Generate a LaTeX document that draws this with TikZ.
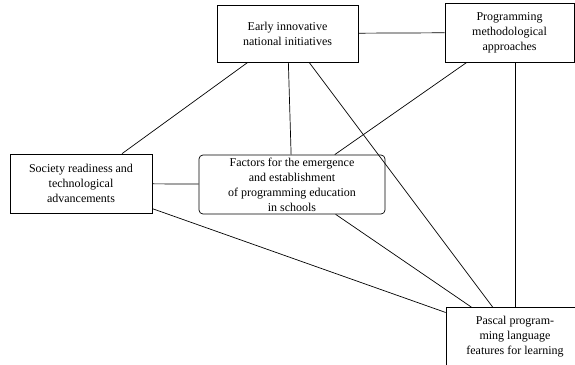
\documentclass[tikz,border=0pt]{standalone}
\usepackage{fontspec}
\setmainfont{Liberation Serif}
\usepackage{tikz}
\usetikzlibrary{positioning}

\begin{document}
\begin{tikzpicture}[x=1pt,y=-1pt,
    plainbox/.style={draw,line width=0.7pt,align=center,inner sep=2pt,
      font=\fontsize{12}{15}\selectfont},
    factorbox/.style={plainbox,rounded corners=4pt},
    link/.style={draw,line width=0.7pt}]
  \useasboundingbox (0,0) rectangle (575,364);
  \node[plainbox,minimum width=141pt,minimum height=57pt] (early) at (287.5,33.5)
    {Early innovative\\national initiatives};
  \node[plainbox,minimum width=129pt,minimum height=59pt] (prog) at (509.5,32.5)
    {Programming\\methodological\\approaches};
  \node[plainbox,minimum width=142pt,minimum height=59pt] (society) at (81,183.5)
    {Society readiness and\\technological\\advancements};
  \node[factorbox,minimum width=186pt,minimum height=59pt] (factors) at (292,184.5)
    {Factors for the emergence\\and establishment\\of programming education\\in schools};
  \node[plainbox,minimum width=138pt,minimum height=59pt] (pascal) at (515,337)
    {Pascal program-\\ming language\\features for learning};
  % connections between the factors
  \draw[link] (early) -- (prog);
  \draw[link] (early) -- (society);
  \draw[link] (early) -- (factors);
  \draw[link] (early) -- (pascal);
  \draw[link] (prog) -- (factors);
  \draw[link] (prog.south -| pascal.north) -- (pascal.north);
  \draw[link] (society) -- (factors);
  \draw[link] (society) -- (pascal);
  \draw[link] (factors) -- (pascal);
\end{tikzpicture}
\end{document}
